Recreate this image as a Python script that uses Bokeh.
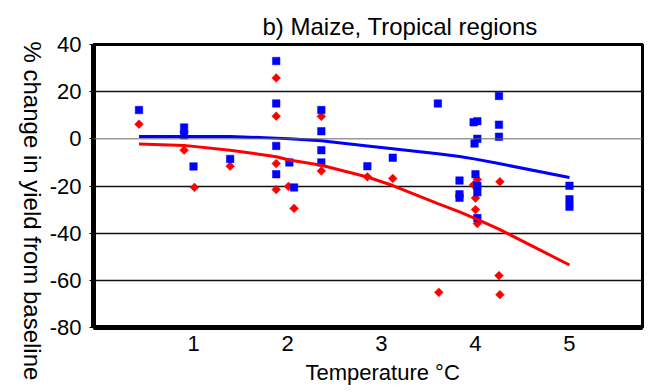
import math
from bokeh.plotting import figure
from bokeh.layouts import row
from bokeh.models import Range1d, FixedTicker, Span, Title
from bokeh.embed import file_html
from bokeh.resources import INLINE

# ---- data ----
blue_x = [0.42, 0.90, 0.90, 1.00, 1.39, 1.88, 1.88, 1.88, 1.88, 2.02, 2.07,
          2.36, 2.36, 2.36, 2.36, 2.85, 3.12, 3.60, 3.83, 3.83, 3.83,
          3.98, 4.02, 4.02, 3.99, 4.00, 4.02, 4.02, 4.02, 4.25, 4.25, 4.25,
          5.00, 5.00, 5.00]
blue_y = [12.2, 4.8, 1.5, -11.7, -8.5, 33.0, 15.0, -3.0, -15.0, -10.0, -20.6,
          12.2, 3.2, -4.8, -10.0, -11.6, -8.0, 15.0, -17.7, -23.5, -25.0,
          7.0, 7.5, 0.0, -2.0, -15.0, -19.9, -22.7, -33.6, 18.2, 6.0, 0.9,
          -19.9, -25.6, -28.8]

red_x = [0.42, 0.90, 0.90, 1.01, 1.39, 1.88, 1.88, 1.88, 1.88, 2.01, 2.07,
         2.36, 2.36, 2.85, 3.12, 3.61, 4.02, 3.98, 4.00, 4.00, 4.02,
         4.26, 4.25, 4.26]
red_y = [6.2, 3.0, -4.8, -20.6, -11.6, 25.8, 9.6, -10.5, -21.5, -20.2, -29.5,
         9.5, -13.6, -16.1, -16.8, -65.1, -17.2, -19.5, -25.1, -30.0, -35.9,
         -18.2, -58.0, -66.1]

fit_x = [0.42, 0.90, 1.00, 1.39, 1.88, 2.02, 2.36, 2.85, 3.12, 3.60, 3.83,
         4.00, 4.25, 5.00]
blue_fit = [1.0, 1.0, 1.0, 1.0, 0.3, 0.0, -0.8, -3.0, -4.2, -6.3, -7.5,
            -8.6, -10.5, -16.4]
red_fit = [-2.2, -2.8, -3.2, -4.8, -7.6, -9.0, -11.2, -16.2, -19.8, -27.5,
           -31.0, -33.8, -38.3, -53.5]

x_ticks = [1, 2, 3, 4, 5]
y_ticks = [-80, -60, -40, -20, 0, 20, 40]
grid_lines = [-60, -40, -20, 20]

title_text = "b) Maize, Tropical regions"
x_label = "Temperature °C"
y_label = "% change in yield from baseline"

FONT = "Liberation Sans"
LAB_W = 46
TOP, BOTTOM = 44, 65

# ---- narrow strip that carries the y label (reads top to bottom) ----
lab = figure(width=LAB_W, height=392, output_backend="svg", toolbar_location=None,
             x_range=Range1d(0, 1), y_range=Range1d(0, 1),
             min_border_left=0, min_border_right=0,
             min_border_top=TOP, min_border_bottom=BOTTOM)
lab.axis.visible = False
lab.grid.visible = False
lab.outline_line_color = None
lab.background_fill_color = "white"
lab.border_fill_color = "white"
lab.add_layout(Title(text=y_label, align="left", offset=-3, standoff=0,
                     vertical_align="middle",
                     text_font=FONT, text_font_size="24px",
                     text_font_style="normal", text_color="black"), "right")

# ---- main chart ----
p = figure(width=648 - LAB_W, height=392, output_backend="svg",
           toolbar_location=None,
           x_range=Range1d(-0.064, 5.777), y_range=Range1d(-80, 40),
           min_border_left=93 - LAB_W, min_border_right=6,
           min_border_top=TOP, min_border_bottom=BOTTOM)
p.background_fill_color = "white"
p.border_fill_color = "white"
p.outline_line_color = "black"
p.outline_line_width = 3

p.add_layout(Title(text=title_text, align="left", offset=169, standoff=10,
                   text_font=FONT, text_font_size="24px",
                   text_font_style="normal", text_color="black"), "above")
p.add_layout(Title(text=x_label, align="left", offset=212, standoff=8,
                   text_font=FONT, text_font_size="22px",
                   text_font_style="normal", text_color="black"), "below")

# axes
p.xaxis.ticker = FixedTicker(ticks=x_ticks)
p.yaxis.ticker = FixedTicker(ticks=y_ticks)
p.yaxis.major_label_overrides = {t: str(t) for t in y_ticks}
p.xaxis.major_label_overrides = {t: str(t) for t in x_ticks}
for ax in (p.xaxis, p.yaxis):
    ax.axis_line_color = "black"
    ax.axis_line_width = 5
    ax.major_label_text_font = FONT
    ax.major_label_text_font_size = "22px"
    ax.major_label_text_color = "black"
    ax.minor_tick_line_color = None
p.xaxis.major_tick_line_color = None
p.xaxis.major_tick_out = 0
p.xaxis.major_label_standoff = 8
p.yaxis.major_tick_out = 4
p.yaxis.major_tick_in = 0
p.yaxis.major_tick_line_color = "black"
p.yaxis.major_tick_line_width = 1
p.yaxis.major_label_standoff = 8

# grid
p.xgrid.grid_line_color = None
p.ygrid.ticker = FixedTicker(ticks=grid_lines)
p.ygrid.grid_line_color = "#111111"
p.ygrid.grid_line_width = 1.5
p.add_layout(Span(location=0, dimension="width", line_color="#666666",
                  line_width=1))

# markers
p.scatter(red_x, red_y, marker="square", angle=math.pi / 4, size=6.2,
          fill_color="#FF0000", line_color="#FF0000", line_width=0.5)
p.scatter(blue_x, blue_y, marker="square", size=7.5,
          fill_color="#0000FF", line_color="#0000FF", line_width=0.5)

# fitted curves
p.line(fit_x, red_fit, line_color="#FF0000", line_width=3)
p.line(fit_x, blue_fit, line_color="#0000FF", line_width=3)

layout = row(lab, p, spacing=0)
open("out.html", "w").write(file_html(layout, INLINE))
